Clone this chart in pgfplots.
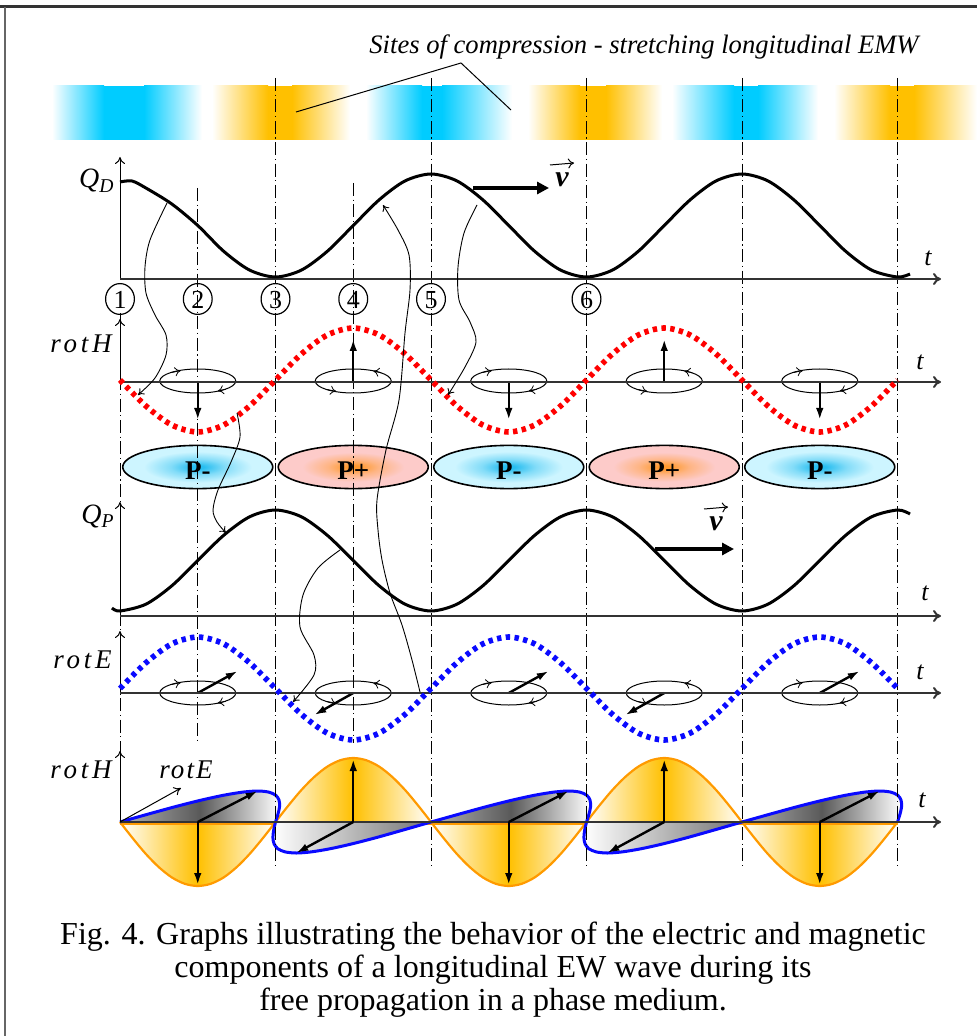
\documentclass[border=0pt]{standalone}
\usepackage{fontspec}
\setmainfont{Liberation Serif}
\usepackage{pgfplots}
\pgfplotsset{compat=1.18}
\usetikzlibrary{arrows.meta}
\definecolor{bandblue}{HTML}{00CCFF}
\definecolor{bandorange}{HTML}{FFC000}
\definecolor{lobeorange}{HTML}{FFC000}
\definecolor{lobeedge}{HTML}{FF9A00}
\definecolor{pblue}{HTML}{28BEF0}
\definecolor{pblueout}{HTML}{CDF5FF}
\definecolor{porange}{HTML}{FF9A30}
\definecolor{pout}{HTML}{FDCBC9}
\definecolor{axgray}{HTML}{333333}
\definecolor{rotblue}{HTML}{0A0AFF}
\colorlet{pbluemid}{pblue!45!pblueout}
\colorlet{porangemid}{porange!45!pout}
\pgfdeclareradialshading{pminus}{\pgfpoint{0bp}{0bp}}{color(0bp)=(pblue); color(2bp)=(pblue); color(9bp)=(pbluemid); color(18bp)=(pblueout); color(50bp)=(pblueout)}
\pgfdeclareradialshading{pplus}{\pgfpoint{0bp}{0bp}}{color(0bp)=(porange); color(2bp)=(porange); color(8.5bp)=(porangemid); color(17bp)=(pout); color(50bp)=(pout)}
\tikzset{
  dashdot/.style={line width=0.5pt, dash pattern=on 6.5pt off 1.8pt on 0.6pt off 1.8pt},
  thinarr/.style={line width=0.45pt, -{To[length=3pt,width=4pt]}},
  thickarr/.style={line width=1.2pt, -{Latex[length=6pt,width=3.8pt]}},
  vearr/.style={line width=2pt, -{Triangle[length=6pt,width=6pt]}},
  xaxis/.style={line width=1pt, axgray, -{To[length=4pt,width=6pt]}},
  yaxis/.style={line width=0.5pt, -{To[length=3.5pt,width=5pt]}},
  small/.style={line width=0.4pt, -{To[length=3pt,width=4.5pt]}},
  plab/.style={font=\fontsize{13.5}{15}\selectfont\bfseries},
  cnum/.style={font=\fontsize{13}{14}\selectfont},
  olobe/.style={draw=lobeedge, line width=1.1pt, smooth, left color=white, right color=white, middle color=lobeorange},
  globeA/.style={draw=rotblue, line width=1.5pt, smooth, left color=black!30, right color=white, middle color=black!65},
  globeB/.style={draw=rotblue, line width=1.5pt, smooth, left color=white, right color=black!55},
  rlab/.style={font=\fontsize{13.5}{15}\selectfont\itshape\addfontfeature{LetterSpace=14}},
  vlab/.style={font=\fontsize{15}{16}\selectfont\bfseries\itshape, inner sep=0pt},
}
\begin{document}
\begin{tikzpicture}
\begin{axis}[name=ax, hide axis, scale only axis, width=488.5pt, height=518pt,
  xmin=0, xmax=977, ymin=0, ymax=1036, y dir=reverse, clip=false]

% frame
\draw[line width=1.5pt, black!80] (axis cs:0,7) -- (axis cs:977,7);
\draw[line width=0.6pt, black!60] (axis cs:5,7) -- (axis cs:5,1036);

% colour band
\fill[left color=white, right color=bandblue] (axis cs:52,86) rectangle (axis cs:104,140);
\fill[bandblue] (axis cs:104,86) rectangle (axis cs:144,140);
\fill[left color=bandblue, right color=white] (axis cs:144,86) rectangle (axis cs:202,140);
\fill[left color=white, right color=bandorange] (axis cs:212,86) rectangle (axis cs:268,140);
\fill[bandorange] (axis cs:268,86) rectangle (axis cs:292,140);
\fill[left color=bandorange, right color=white] (axis cs:292,86) rectangle (axis cs:350,140);
\fill[left color=white, right color=bandblue] (axis cs:366,86) rectangle (axis cs:422,140);
\fill[bandblue] (axis cs:422,86) rectangle (axis cs:442,140);
\fill[left color=bandblue, right color=white] (axis cs:442,86) rectangle (axis cs:512,140);
\fill[left color=white, right color=bandorange] (axis cs:528,86) rectangle (axis cs:580,140);
\fill[bandorange] (axis cs:580,86) rectangle (axis cs:606,140);
\fill[left color=bandorange, right color=white] (axis cs:606,86) rectangle (axis cs:662,140);
\fill[left color=white, right color=bandblue] (axis cs:672,86) rectangle (axis cs:734,140);
\fill[bandblue] (axis cs:734,86) rectangle (axis cs:758,140);
\fill[left color=bandblue, right color=white] (axis cs:758,86) rectangle (axis cs:818,140);
\fill[left color=white, right color=bandorange] (axis cs:834,86) rectangle (axis cs:890,140);
\fill[bandorange] (axis cs:890,86) rectangle (axis cs:914,140);
\fill[left color=bandorange, right color=white] (axis cs:914,86) rectangle (axis cs:977,140);

\node[font=\fontsize{13.3}{15}\selectfont\itshape] at (axis cs:644,47) {Sites of compression - stretching longitudinal EMW};
\draw[line width=0.5pt] (axis cs:296,112) -- (axis cs:461,63) -- (axis cs:511,110);

% P ellipses
\shadedraw[shading=pminus, line width=0.8pt] (axis cs:197.75,467) ellipse [x radius=37.5pt, y radius=10.8pt];
\shadedraw[shading=pplus, line width=0.8pt] (axis cs:353.25,467) ellipse [x radius=37.5pt, y radius=10.8pt];
\shadedraw[shading=pminus, line width=0.8pt] (axis cs:508.75,467) ellipse [x radius=37.5pt, y radius=10.8pt];
\shadedraw[shading=pplus, line width=0.8pt] (axis cs:664.25,467) ellipse [x radius=37.5pt, y radius=10.8pt];
\shadedraw[shading=pminus, line width=0.8pt] (axis cs:819.75,467) ellipse [x radius=37.5pt, y radius=10.8pt];
\node[plab] at (axis cs:197.75,471) {P-};
\node[plab] at (axis cs:353.25,471) {P+};
\node[plab] at (axis cs:508.75,471) {P-};
\node[plab] at (axis cs:664.25,471) {P+};
\node[plab] at (axis cs:819.75,471) {P-};

% bottom lobes (orange)
\addplot[olobe] coordinates {(120,822) (133.0,838.6) (145.9,854) (158.9,867.2) (171.8,877.4) (184.8,883.8) (197.75,886) (210.7,883.8) (223.7,877.4) (236.6,867.2) (249.6,854) (262.5,838.6) (275.5,822)};
\addplot[olobe] coordinates {(275.5,822) (288.5,805.4) (301.4,790) (314.4,776.8) (327.3,766.6) (340.3,760.2) (353.25,758) (366.2,760.2) (379.2,766.6) (392.1,776.8) (405.1,790) (418.0,805.4) (431,822)};
\addplot[olobe] coordinates {(431,822) (444.0,838.6) (456.9,854) (469.9,867.2) (482.8,877.4) (495.8,883.8) (508.75,886) (521.7,883.8) (534.7,877.4) (547.6,867.2) (560.6,854) (573.5,838.6) (586.5,822)};
\addplot[olobe] coordinates {(586.5,822) (599.5,805.4) (612.4,790) (625.4,776.8) (638.3,766.6) (651.3,760.2) (664.25,758) (677.2,760.2) (690.2,766.6) (703.1,776.8) (716.1,790) (729.0,805.4) (742,822)};
\addplot[olobe] coordinates {(742,822) (755.0,838.6) (767.9,854) (780.9,867.2) (793.8,877.4) (806.8,883.8) (819.75,886) (832.7,883.8) (845.7,877.4) (858.6,867.2) (871.6,854) (884.5,838.6) (897.5,822)};
\draw[lobeedge, line width=1.2pt] (axis cs:120,824) -- (axis cs:897.5,824);

% bottom lobes (grey, blue edge)
\addplot[globeA] coordinates {(120,822) (148.5,814) (175.9,806.5) (201.3,800.1) (223.8,795.2) (242.8,792.1) (257.8,791) (268.7,792.1) (275.7,795.2) (279.0,800.1) (279.6,806.5) (278.0,814) (275.5,822)};
\addplot[globeB] coordinates {(275.5,822) (273.7,830) (272.9,837.5) (274.1,843.9) (277.9,848.8) (285.2,851.9) (296.25,853) (311.1,851.9) (329.8,848.8) (351.8,843.9) (376.6,837.5) (403.2,830) (431,822)};
\addplot[globeA] coordinates {(431,822) (459.5,814) (486.9,806.5) (512.3,800.1) (534.8,795.2) (553.8,792.1) (568.8,791) (579.7,792.1) (586.7,795.2) (590.0,800.1) (590.6,806.5) (589.0,814) (586.5,822)};
\addplot[globeB] coordinates {(586.5,822) (584.7,830) (583.9,837.5) (585.1,843.9) (588.9,848.8) (596.2,851.9) (607.25,853) (622.1,851.9) (640.8,848.8) (662.8,843.9) (687.6,837.5) (714.2,830) (742,822)};
\addplot[globeA] coordinates {(742,822) (770.5,814) (797.9,806.5) (823.3,800.1) (845.8,795.2) (864.8,792.1) (879.8,791) (890.7,792.1) (897.7,795.2) (901.0,800.1) (901.6,806.5) (900.0,814) (897.5,822)};

% dash-dot verticals
\draw[dashdot] (axis cs:120,313) -- (axis cs:120,752);
\draw[dashdot] (axis cs:197.75,188) -- (axis cs:197.75,740);
\draw[dashdot] (axis cs:353.25,183) -- (axis cs:353.25,743);
\pgfplotsinvokeforeach{275.5,431,586.5,742,897.5}{
  \draw[dashdot] (axis cs:#1,78) -- (axis cs:#1,868);
}

% ---- Q_D ----
\draw[yaxis] (axis cs:120,279) -- (axis cs:120,157);
\draw[xaxis] (axis cs:120,279) -- (axis cs:941,279);
\addplot[black, line width=1.5pt, smooth] coordinates {(120,182) (132,181) (145.9,188) (171.8,204) (197.75,225.5) (223.7,251.3) (249.6,270.1) (275.5,277) (301.4,270.1) (327.3,251.3) (353.25,225.5) (379.2,199.8) (405.1,180.9) (431,174) (456.9,180.9) (482.8,199.8) (508.75,225.5) (534.7,251.3) (560.6,270.1) (586.5,277) (612.4,270.1) (638.3,251.3) (664.25,225.5) (690.2,199.8) (716.1,180.9) (742,174) (767.9,180.9) (793.8,199.8) (819.75,225.5) (845.7,251.3) (871.6,270.1) (897.5,277) (910,274)};
\node[anchor=base east, font=\fontsize{14}{16}\selectfont\itshape, inner sep=0pt] at (axis cs:115,188) {Q\textsubscript{D}};
\node[font=\fontsize{13}{15}\selectfont\itshape] at (axis cs:928,258) {t};
\draw[vearr] (axis cs:473,188) -- (axis cs:549,188);
\node[vlab] at (axis cs:562,180) {v};
\draw[line width=0.5pt, -{To[length=3pt,width=5pt]}] (axis cs:550,165) -- (axis cs:574,163);
\pgfplotsinvokeforeach{120,197.75,275.5,353.25,431,586.5}{
  \draw[line width=0.6pt] (axis cs:#1,299) ellipse [x radius=7.2pt, y radius=7.7pt];
}
\node[cnum] at (axis cs:120,300) {1};
\node[cnum] at (axis cs:197.75,300) {2};
\node[cnum] at (axis cs:275.5,300) {3};
\node[cnum] at (axis cs:353.25,300) {4};
\node[cnum] at (axis cs:431,300) {5};
\node[cnum] at (axis cs:586.5,300) {6};

% ---- rotH ----
\draw[yaxis] (axis cs:120,382) -- (axis cs:120,319);
\node[anchor=base east, rlab, inner sep=0pt] at (axis cs:112,353) {rotH};
\node[font=\fontsize{13}{15}\selectfont\itshape] at (axis cs:920,362) {t};
\pgfplotsinvokeforeach{197.75,508.75,819.75}{
  \draw[line width=0.5pt] (axis cs:#1,381) ellipse [x radius=19pt, y radius=6pt];
  \draw[small] (axis cs:#1-26,372.5) -- (axis cs:#1-17,370.6);
  \draw[small] (axis cs:#1+28,389.2) -- (axis cs:#1+20,391.0);
  \draw[thickarr] (axis cs:#1,381) -- (axis cs:#1,420);
}
\pgfplotsinvokeforeach{353.25,664.25}{
  \draw[line width=0.5pt] (axis cs:#1,381) ellipse [x radius=19pt, y radius=6pt];
  \draw[small] (axis cs:#1+28,372.8) -- (axis cs:#1+20,371.0);
  \draw[small] (axis cs:#1-26,389.5) -- (axis cs:#1-17,391.4);
  \draw[thickarr] (axis cs:#1,381) -- (axis cs:#1,339);
}
\draw[xaxis] (axis cs:120,382) -- (axis cs:941,382);
\addplot[red, line width=2.8pt, smooth, dash pattern=on 2.2pt off 2.2pt] coordinates {(120,380) (145.9,406) (171.8,425) (197.75,432) (223.7,425) (249.6,406) (275.5,380) (301.4,354) (327.3,335) (353.25,328) (379.2,335) (405.1,354) (431,380) (456.9,406) (482.8,425) (508.75,432) (534.7,425) (560.6,406) (586.5,380) (612.4,354) (638.3,335) (664.25,328) (690.2,335) (716.1,354) (742,380) (767.9,406) (793.8,425) (819.75,432) (845.7,425) (871.6,406) (897.5,380)};

% ---- Q_P ----
\draw[yaxis] (axis cs:120,616) -- (axis cs:120,502);
\draw[xaxis] (axis cs:120,616) -- (axis cs:941,616);
\addplot[black, line width=1.5pt, smooth] coordinates {(112,608) (120,611) (145.9,604.2) (171.8,585.8) (197.75,560.5) (223.7,535.3) (249.6,516.8) (275.5,510) (301.4,516.8) (327.3,535.3) (353.25,560.5) (379.2,585.8) (405.1,604.2) (431,611) (456.9,604.2) (482.8,585.8) (508.75,560.5) (534.7,535.3) (560.6,516.8) (586.5,510) (612.4,516.8) (638.3,535.3) (664.25,560.5) (690.2,585.8) (716.1,604.2) (742,611) (767.9,604.2) (793.8,585.8) (819.75,560.5) (845.7,535.3) (871.6,516.8) (897.5,510) (910,514)};
\node[anchor=base east, font=\fontsize{14}{16}\selectfont\itshape, inner sep=0pt] at (axis cs:115,523) {Q\textsubscript{P}};
\node[font=\fontsize{13}{15}\selectfont\itshape] at (axis cs:925,593) {t};
\draw[vearr] (axis cs:655,549) -- (axis cs:734,549);
\node[vlab] at (axis cs:716,524) {v};
\draw[line width=0.5pt, -{To[length=3pt,width=5pt]}] (axis cs:704,509) -- (axis cs:728,507);

% ---- rotE ----
\draw[yaxis] (axis cs:120,693) -- (axis cs:120,631);
\node[anchor=base east, rlab, inner sep=0pt] at (axis cs:112,668) {rotE};
\node[font=\fontsize{13}{15}\selectfont\itshape] at (axis cs:920,672) {t};
\pgfplotsinvokeforeach{197.75,508.75,819.75}{
  \draw[line width=0.5pt] (axis cs:#1,693) ellipse [x radius=19pt, y radius=6pt];
  \draw[small] (axis cs:#1-26,684.5) -- (axis cs:#1-17,682.6);
  \draw[small] (axis cs:#1+28,701.2) -- (axis cs:#1+20,703.0);
  \draw[thickarr] (axis cs:#1,693) -- (axis cs:#1+40,671);
}
\pgfplotsinvokeforeach{353.25,664.25}{
  \draw[line width=0.5pt] (axis cs:#1,693) ellipse [x radius=19pt, y radius=6pt];
  \draw[small] (axis cs:#1+28,684.8) -- (axis cs:#1+20,683.0);
  \draw[small] (axis cs:#1-26,701.5) -- (axis cs:#1-17,703.4);
  \draw[thickarr] (axis cs:#1,693) -- (axis cs:#1-39,715);
}
\draw[xaxis] (axis cs:120,693) -- (axis cs:941,693);
\addplot[rotblue, line width=2.8pt, smooth, dash pattern=on 2.2pt off 2.2pt] coordinates {(120,688.5) (145.9,662.8) (171.8,643.9) (197.75,637) (223.7,643.9) (249.6,662.8) (275.5,688.5) (301.4,714.3) (327.3,733.1) (353.25,740) (379.2,733.1) (405.1,714.3) (431,688.5) (456.9,662.8) (482.8,643.9) (508.75,637) (534.7,643.9) (560.6,662.8) (586.5,688.5) (612.4,714.3) (638.3,733.1) (664.25,740) (690.2,733.1) (716.1,714.3) (742,688.5) (767.9,662.8) (793.8,643.9) (819.75,637) (845.7,643.9) (871.6,662.8) (897.5,688.5)};

% ---- bottom panel ----
\draw[yaxis] (axis cs:120,822) -- (axis cs:120,751);
\draw[xaxis] (axis cs:120,822) -- (axis cs:941,822);
\node[anchor=base east, rlab, inner sep=0pt] at (axis cs:112,778) {rotH};
\node[font=\fontsize{13.5}{15}\selectfont\itshape\addfontfeature{LetterSpace=8}] at (axis cs:186,770) {rotE};
\node[font=\fontsize{13}{15}\selectfont\itshape] at (axis cs:922,800) {t};
\draw[line width=0.5pt, -{To[length=3.5pt,width=4.5pt]}] (axis cs:120,822) -- (axis cs:181,788);
\pgfplotsinvokeforeach{197.75,508.75,819.75}{
  \draw[thickarr] (axis cs:#1,822) -- (axis cs:#1,885);
  \draw[thickarr] (axis cs:#1,822) -- (axis cs:#1+60,791);
}
\pgfplotsinvokeforeach{353.25,664.25}{
  \draw[thickarr] (axis cs:#1,822) -- (axis cs:#1,759);
  \draw[thickarr] (axis cs:#1,822) -- (axis cs:#1-57,853);
}

% ---- thin connecting arrows ----
\addplot[thinarr, smooth] coordinates {(167,203) (150,240) (145,267) (146,293) (155,315) (166,335) (166,355) (155,378) (138,395)};
\addplot[thinarr, smooth] coordinates {(237,413) (240,437) (231,462) (218,490) (213,510) (217,522) (226,533)};
\addplot[thinarr, smooth] coordinates {(340,550) (318,568) (303,595) (300,627) (314,655) (314,675) (293,702)};
\addplot[thinarr, smooth] coordinates {(420,692) (412,660) (402,625) (390,593) (382,560) (378,530) (377,500) (386,450) (399,400) (405,333) (410,290) (409,255) (398,230) (383,205)};
\addplot[thinarr, smooth] coordinates {(477,205) (464,233) (458,267) (459,300) (470,322) (476,342) (465,367) (448,395)};

% caption
\node[anchor=base, font=\fontsize{16}{18}\selectfont, inner sep=0pt] at (axis cs:493,944) {Fig. 4. Graphs illustrating the behavior of the electric and magnetic};
\node[anchor=base, font=\fontsize{16}{18}\selectfont, inner sep=0pt] at (axis cs:493,977) {components of a longitudinal EW wave during its};
\node[anchor=base, font=\fontsize{16}{18}\selectfont, inner sep=0pt] at (axis cs:493,1010) {free propagation in a phase medium.};
\fill[white] (axis cs:8,1019) rectangle (axis cs:977,1036);
\end{axis}
\pgfresetboundingbox
\path (ax.south west) rectangle (ax.north east);
\end{tikzpicture}
\end{document}
